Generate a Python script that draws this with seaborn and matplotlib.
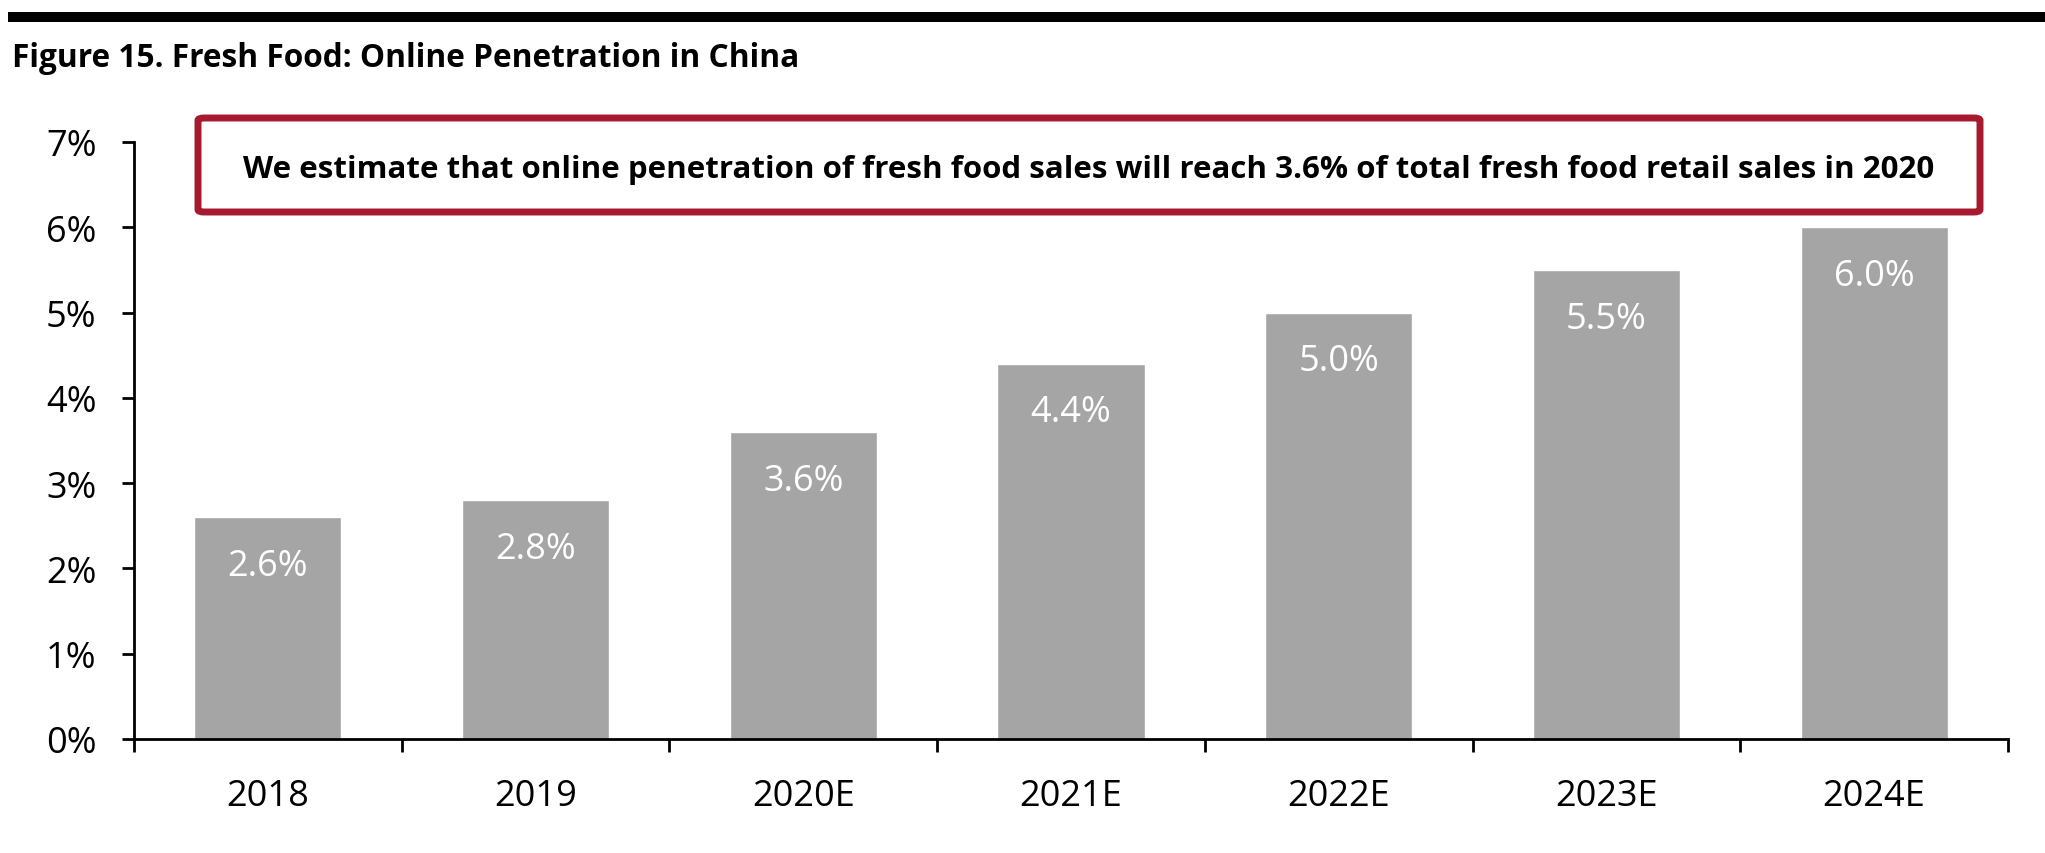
import matplotlib
matplotlib.use("Agg")
import matplotlib.pyplot as plt
import matplotlib.patches as mpatches
from matplotlib.ticker import FixedLocator, PercentFormatter
import seaborn as sns
import pandas as pd

# data
YEARS = ["2018", "2019", "2020E", "2021E", "2022E", "2023E", "2024E"]
VALUES = [2.6, 2.8, 3.6, 4.4, 5.0, 5.5, 6.0]
LABELS = ["2.6%", "2.8%", "3.6%", "4.4%", "5.0%", "5.5%", "6.0%"]
YTICKS = [0, 1, 2, 3, 4, 5, 6, 7]

TITLE = "Figure 15. Fresh Food: Online Penetration in China"
NOTE = ("We estimate that online penetration of fresh food sales will reach "
        "3.6% of total fresh food retail sales in 2020")

BAR_COLOR = "#A5A5A5"
RED = "#A6192E"

sns.set_theme(style="white")
plt.rcParams["font.family"] = ["Open Sans", "DejaVu Sans"]

W, H = 2045, 854
fig = plt.figure(figsize=(W / 100, H / 100), dpi=100)
ax = fig.add_axes([134 / W, 1 - 740 / H, (2008 - 134) / W, (740 - 143) / H])

df = pd.DataFrame({"year": YEARS, "value": VALUES})
sns.barplot(data=df, x="year", y="value", color=BAR_COLOR, saturation=1,
            width=0.55, ax=ax)

ax.set_ylim(0, 7)
ax.set_xlim(-0.5, len(YEARS) - 0.5)
ax.set_yticks(YTICKS)
ax.yaxis.set_major_formatter(PercentFormatter(decimals=0))
ax.set_xlabel("")
ax.set_ylabel("")

# spines
for s in ["top", "right"]:
    ax.spines[s].set_visible(False)
for s in ["left", "bottom"]:
    ax.spines[s].set_color("black")
    ax.spines[s].set_linewidth(2)

# ticks: category boundaries carry the marks, labels at centers
ax.xaxis.set_minor_locator(FixedLocator([i - 0.5 for i in range(len(YEARS) + 1)]))
ax.tick_params(axis="x", which="major", length=0, pad=28, labelsize=26,
               colors="black")
ax.tick_params(axis="x", which="minor", length=9, width=2, direction="out",
               color="black", bottom=True)
ax.tick_params(axis="y", which="major", length=9, width=2, direction="out",
               pad=18, labelsize=26, colors="black", left=True)

# value labels inside bars
for i, (v, lab) in enumerate(zip(VALUES, LABELS)):
    ax.text(i, v - 0.57, lab, ha="center", va="center", color="white",
            fontsize=26)

# top black rule
fig.add_artist(mpatches.Rectangle((8 / W, 1 - 23 / H), 1 - 8 / W, 10 / H,
                                  transform=fig.transFigure, color="black",
                                  lw=0))

# title
fig.text(12 / W, 1 - 67 / H, TITLE, ha="left", va="baseline", fontsize=22.8,
         fontweight="bold", color="black")

# callout box
bx0, bx1, by0, by1 = 198, 1980, 119, 213
box = mpatches.FancyBboxPatch((bx0 / W, 1 - by1 / H), (bx1 - bx0) / W,
                              (by1 - by0) / H,
                              boxstyle="round,pad=0,rounding_size=0.003",
                              transform=fig.transFigure, facecolor="white",
                              edgecolor=RED, lw=5)
fig.add_artist(box)
fig.text((bx0 + bx1) / 2 / W, 1 - ((by0 + by1) / 2 + 4) / H, NOTE,
         ha="center", va="center", fontsize=22.5, fontweight="bold",
         color="black")

fig.savefig("out.png", dpi=100)
